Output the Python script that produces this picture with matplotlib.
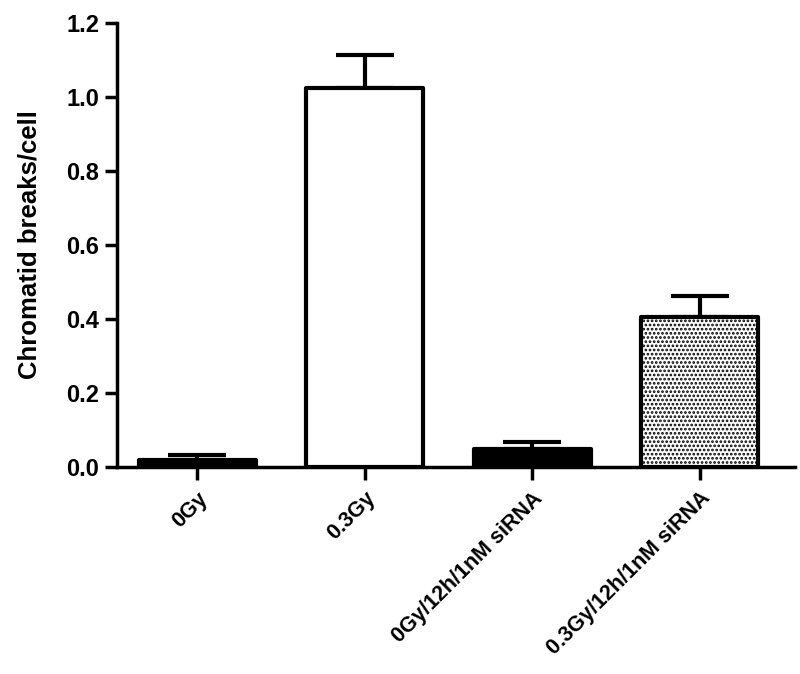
import matplotlib
matplotlib.use('Agg')
import matplotlib.pyplot as plt
import numpy as np

# values
groups = ['0Gy', '0.3Gy', '0Gy/12h/1nM siRNA', '0.3Gy/12h/1nM siRNA']
means = [0.018, 1.024, 0.048, 0.405]
errs = [0.015, 0.088, 0.020, 0.056]
fills = ['black', 'white', 'black', 'white']
hatches = [None, None, None, '....']

plt.rcParams['font.family'] = ['Liberation Sans', 'DejaVu Sans']
plt.rcParams['font.weight'] = 'bold'
plt.rcParams['hatch.linewidth'] = 1.3

fig = plt.figure(figsize=(8, 6.74), dpi=100)
ax = fig.add_axes([0.146, 0.307, 0.848, 0.659])

x = np.arange(len(groups))
for i in range(len(groups)):
    ax.bar(x[i], means[i], width=0.7, color=fills[i], edgecolor='black',
           linewidth=3, hatch=hatches[i], joinstyle='round', zorder=2)

ax.errorbar(x, means, yerr=[np.zeros(len(errs)), errs], fmt='none',
            ecolor='black', elinewidth=3, capsize=21, capthick=3, zorder=1)

ax.set_xlim(-0.48, 3.57)
ax.set_ylim(0, 1.2)
ax.set_yticks([0.0, 0.2, 0.4, 0.6, 0.8, 1.0, 1.2])
ax.set_yticklabels(['0.0', '0.2', '0.4', '0.6', '0.8', '1.0', '1.2'],
                   fontsize=17, fontweight='bold')
ax.set_xticks(x)
ax.set_xticklabels(groups, rotation=45, ha='right', rotation_mode='anchor',
                   fontsize=15.5, fontweight='bold')
ax.set_ylabel('Chromatid breaks/cell', fontsize=18.5, fontweight='bold', labelpad=18)

for s in ['top', 'right']:
    ax.spines[s].set_visible(False)
for s in ['left', 'bottom']:
    ax.spines[s].set_linewidth(2.5)
ax.tick_params(axis='both', direction='out', length=9, width=2.5)
ax.tick_params(axis='x', pad=6)

fig.savefig('out.png', dpi=100)
